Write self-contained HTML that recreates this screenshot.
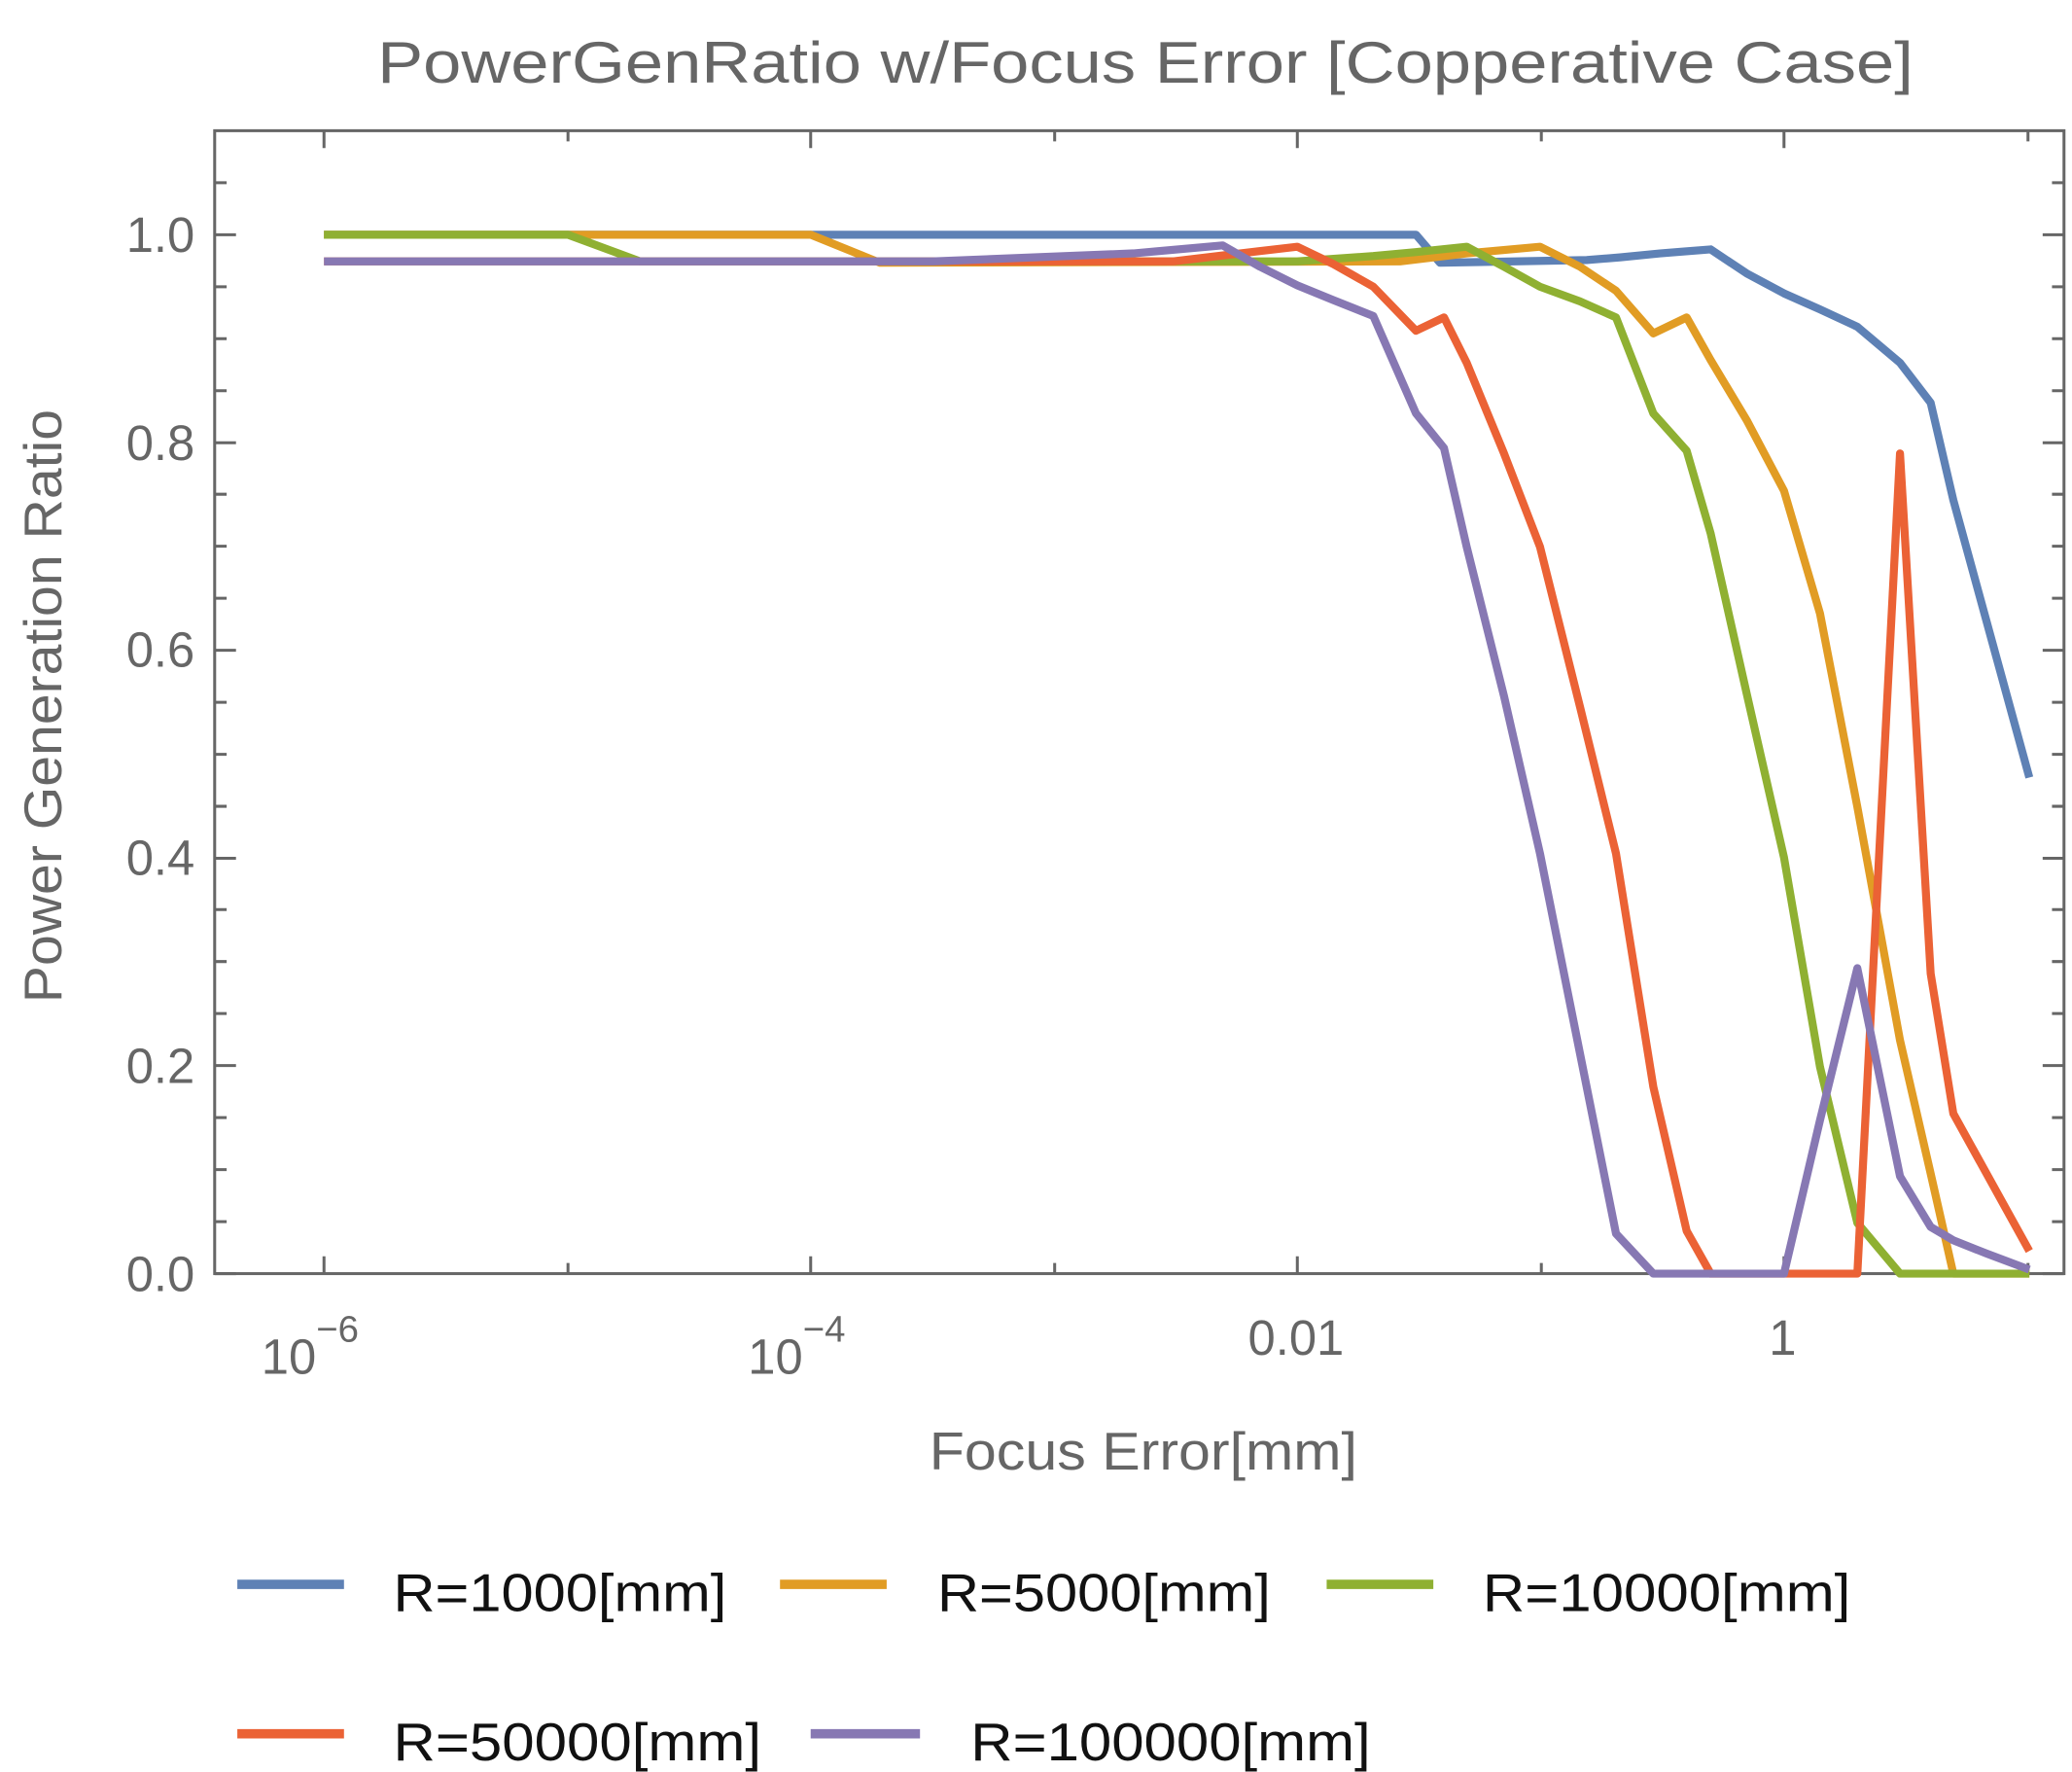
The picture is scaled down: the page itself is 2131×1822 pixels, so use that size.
<!DOCTYPE html>
<html><head><meta charset="utf-8"><style>
html,body{margin:0;padding:0;background:#fff;}
svg{display:block;}
text{font-family:"Liberation Sans",sans-serif;fill:#666;}
</style></head><body>
<svg width="2131" height="1822" viewBox="0 0 1554 1328.7" preserveAspectRatio="none" xmlns="http://www.w3.org/2000/svg">
<text x="283" y="62" font-size="44" textLength="1152" lengthAdjust="spacingAndGlyphs">PowerGenRatio w/Focus Error [Copperative Case]</text>
<g stroke="#666" stroke-width="2.2" fill="none">
<rect x="161" y="98" width="1387" height="857"/>
<path d="M161 955h16M161 799h16M161 643.6h16M161 487.6h16M161 332h16M161 176h16
M161 916h9M161 877h9M161 838h9M161 760h9M161 721h9M161 682h9M161 604.6h9M161 565.6h9M161 526.6h9M161 448.6h9M161 409.6h9M161 370.6h9M161 293h9M161 254h9M161 215h9M161 137h9
M1548 955h-16M1548 799h-16M1548 643.6h-16M1548 487.6h-16M1548 332h-16M1548 176h-16
M1548 916h-9M1548 877h-9M1548 838h-9M1548 760h-9M1548 721h-9M1548 682h-9M1548 604.6h-9M1548 565.6h-9M1548 526.6h-9M1548 448.6h-9M1548 409.6h-9M1548 370.6h-9M1548 293h-9M1548 254h-9M1548 215h-9M1548 137h-9"/>
<path d="M243 955v-13M608 955v-13M973 955v-13M1338 955v-13M426 955v-8M791 955v-8M1156 955v-8M1521 955v-8
M243 98v13M608 98v13M973 98v13M1338 98v13M426 98v8M791 98v8M1156 98v8M1521 98v8"/>
</g>
<g font-size="37" text-anchor="end">
<text x="146" y="968">0.0</text>
<text x="146" y="812">0.2</text>
<text x="146" y="656">0.4</text>
<text x="146" y="500">0.6</text>
<text x="146" y="345">0.8</text>
<text x="146" y="189">1.0</text>
</g>
<g font-size="37">
<text x="196" y="1030">10<tspan font-size="28" dy="-24">−6</tspan></text>
<text x="561" y="1030">10<tspan font-size="28" dy="-24">−4</tspan></text>
<text x="972" y="1016" text-anchor="middle">0.01</text>
<text x="1337" y="1016" text-anchor="middle">1</text>
</g>
<text x="697" y="1102" font-size="40" textLength="321" lengthAdjust="spacingAndGlyphs">Focus Error[mm]</text>
<text transform="translate(46,752) rotate(-90)" font-size="40" textLength="445" lengthAdjust="spacingAndGlyphs">Power Generation Ratio</text>
<g fill="none" stroke-width="6" stroke-linejoin="round">
<polyline stroke="#5E81B5" points="243,176 1062,176 1080,197 1190,195 1215,193 1245,190 1283,187 1310,205 1338,220 1365,232 1393,245 1425,272 1448,302 1465,375 1522,583"/>
<polyline stroke="#E19C24" points="243,176 608,176 660,197 1050,196 1100,190 1155,185 1185,200 1212,218 1240,250 1265,238 1283,270 1310,315 1338,368 1365,460 1393,605 1425,780 1448,880 1465,955 1522,955"/>
<polyline stroke="#8FB032" points="243,176 426,176 480,196 973,196 1030,192 1062,189 1100,185 1128,200 1155,215 1185,226 1212,238 1240,310 1265,338 1283,400 1310,520 1338,643 1365,800 1393,917 1425,955 1522,955"/>
<polyline stroke="#EB6235" points="243,196 880,196 930,190 973,185 1000,198 1030,215 1062,248 1083,238 1100,272 1128,340 1155,410 1185,530 1212,640 1240,815 1265,923 1283,955 1393,955 1425,340 1448,730 1465,835 1522,938"/>
<polyline stroke="#8778B3" points="243,196 700,196 850,190 917,184 945,200 973,214 1000,225 1030,237 1062,310 1083,336 1100,410 1128,522 1155,640 1185,790 1212,925 1240,955 1338,955 1365,840 1393,726 1425,882 1448,920 1465,930 1490,940 1522,952"/>
</g>
<g stroke-width="7">
<line x1="178" y1="1188" x2="258" y2="1188" stroke="#5E81B5"/>
<line x1="585" y1="1188" x2="665" y2="1188" stroke="#E19C24"/>
<line x1="995" y1="1188" x2="1075" y2="1188" stroke="#8FB032"/>
<line x1="178" y1="1300" x2="258" y2="1300" stroke="#EB6235"/>
<line x1="608" y1="1300" x2="690" y2="1300" stroke="#8778B3"/>
</g>
<g font-size="40" lengthAdjust="spacingAndGlyphs">
<text x="295" y="1208" style="fill:#111" textLength="250" lengthAdjust="spacingAndGlyphs">R=1000[mm]</text>
<text x="703" y="1208" style="fill:#111" textLength="250" lengthAdjust="spacingAndGlyphs">R=5000[mm]</text>
<text x="1112" y="1208" style="fill:#111" textLength="276" lengthAdjust="spacingAndGlyphs">R=10000[mm]</text>
<text x="295" y="1320" style="fill:#111" textLength="276" lengthAdjust="spacingAndGlyphs">R=50000[mm]</text>
<text x="728" y="1320" style="fill:#111" textLength="300" lengthAdjust="spacingAndGlyphs">R=100000[mm]</text>
</g>
</svg>
</body></html>
